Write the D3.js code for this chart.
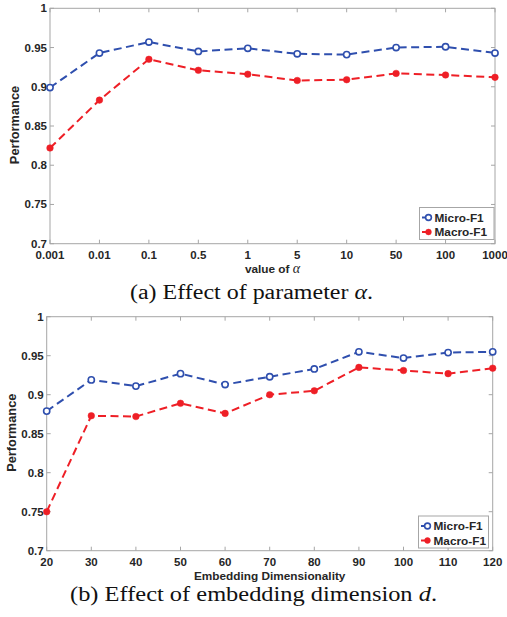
<!DOCTYPE html>
<html>
<head>
<meta charset="utf-8">
<script src="https://cdn.jsdelivr.net/npm/d3@7"></script>
<style>
  body { margin: 0; background: #fff; }
</style>
</head>
<body>
<div id="chart"></div>
<script>
// panel (a): value of alpha
var alphaLabels = ["0.001", "0.01", "0.1", "0.5", "1", "5", "10", "50", "100", "1000"];
var alphaMicro = [0.899, 0.943, 0.957, 0.945, 0.949, 0.942, 0.941, 0.950, 0.951, 0.943];
var alphaMacro = [0.822, 0.883, 0.935, 0.921, 0.916, 0.908, 0.909, 0.917, 0.915, 0.912];

// panel (b): embedding dimension
var dims = [20, 30, 40, 50, 60, 70, 80, 90, 100, 110, 120];
var dimMicro = [0.879, 0.919, 0.911, 0.927, 0.913, 0.923, 0.933, 0.955, 0.947, 0.954, 0.955];
var dimMacro = [0.750, 0.873, 0.872, 0.889, 0.876, 0.900, 0.905, 0.935, 0.931, 0.927, 0.934];

var yTicks = [0.7, 0.75, 0.8, 0.85, 0.9, 0.95, 1];
var seriesNames = ["Micro-F1", "Macro-F1"];

var blue = "#2f4fae", red = "#ee1f26", axisCol = "#a6a6a6", txt = "#262626";
var sans = "'Liberation Sans', Arial, sans-serif";
var serif = "'Liberation Serif', 'Times New Roman', serif";

var svg = d3.select("#chart").append("svg")
    .attr("width", 507)
    .attr("height", 617)
    .style("font-family", sans);

function panel(cfg) {
  var g = svg.append("g");
  var left = cfg.left, right = cfg.right, top = cfg.top, bottom = cfg.bottom;

  var y = d3.scaleLinear().domain([0.7, 1]).range([bottom, top]);
  var x = cfg.x;

  // box
  g.append("rect")
    .attr("x", left).attr("y", top)
    .attr("width", right - left).attr("height", bottom - top)
    .attr("fill", "none").attr("stroke", axisCol).attr("stroke-width", 1);

  // y ticks (both sides, inward)
  yTicks.forEach(function(v) {
    g.append("line").attr("x1", left).attr("x2", left + 4)
      .attr("y1", y(v)).attr("y2", y(v)).attr("stroke", axisCol);
    g.append("line").attr("x1", right).attr("x2", right - 4)
      .attr("y1", y(v)).attr("y2", y(v)).attr("stroke", axisCol);
    g.append("text")
      .attr("x", left - 3).attr("y", y(v) + 4)
      .attr("text-anchor", "end")
      .style("font-size", "11.5px").style("font-weight", "bold").attr("fill", txt)
      .text(v === 1 ? "1" : String(v));
  });

  // x ticks
  cfg.xVals.forEach(function(v, i) {
    var px = x(v);
    g.append("line").attr("x1", px).attr("x2", px)
      .attr("y1", bottom).attr("y2", bottom - 4).attr("stroke", axisCol);
    g.append("line").attr("x1", px).attr("x2", px)
      .attr("y1", top).attr("y2", top + 4).attr("stroke", axisCol);
    g.append("text")
      .attr("x", px).attr("y", bottom + 15.5)
      .attr("text-anchor", "middle")
      .style("font-size", "11.5px").style("font-weight", "bold").attr("fill", txt)
      .text(cfg.xText[i]);
  });

  // axis labels
  var xl = g.append("text")
    .attr("x", (left + right) / 2).attr("y", bottom + 29.5)
    .attr("text-anchor", "middle")
    .style("font-size", "11.8px").style("font-weight", "bold").attr("fill", txt);
  xl.append("tspan").text(cfg.xLabel);
  if (cfg.xLabelMath) {
    xl.append("tspan").style("font-family", serif).style("font-style", "italic")
      .style("font-weight", "normal").style("font-size", "14px").text(cfg.xLabelMath);
  }

  g.append("text")
    .attr("transform", "translate(" + (left - 31) + "," + ((top + bottom) / 2 - 1) + ") rotate(-90)")
    .attr("text-anchor", "middle")
    .style("font-size", "12.8px").style("font-weight", "bold").attr("fill", txt)
    .text("Performance");

  // lines
  var line = d3.line()
    .x(function(d) { return x(d[0]); })
    .y(function(d) { return y(d[1]); });

  [[cfg.micro, blue], [cfg.macro, red]].forEach(function(s, k) {
    var pts = cfg.xVals.map(function(v, i) { return [v, s[0][i]]; });
    g.append("path")
      .attr("d", line(pts))
      .attr("fill", "none").attr("stroke", s[1])
      .attr("stroke-width", 2).attr("stroke-dasharray", "8,4.5");
    g.selectAll(".m" + k).data(pts).enter().append("circle")
      .attr("cx", function(d) { return x(d[0]); })
      .attr("cy", function(d) { return y(d[1]); })
      .attr("r", k === 0 ? 3.1 : 3.3)
      .attr("fill", k === 0 ? "#fff" : red)
      .attr("stroke", s[1]).attr("stroke-width", k === 0 ? 1.6 : 0.5);
  });

  // legend
  var lg = cfg.legend;
  g.append("rect")
    .attr("x", lg.x).attr("y", lg.y).attr("width", lg.w).attr("height", 32)
    .attr("fill", "#fff").attr("stroke", axisCol);
  seriesNames.forEach(function(n, k) {
    var ly = lg.y + 10 + k * 14.5;
    var c = k === 0 ? blue : red;
    g.append("line").attr("x1", lg.x + 2.5).attr("x2", lg.x + 9)
      .attr("y1", ly).attr("y2", ly).attr("stroke", c).attr("stroke-width", 2);
    g.append("circle").attr("cx", lg.x + 9).attr("cy", ly).attr("r", 2.9)
      .attr("fill", k === 0 ? "#fff" : red).attr("stroke", c)
      .attr("stroke-width", k === 0 ? 1.6 : 0.5);
    g.append("text").attr("x", lg.x + 15).attr("y", ly + 4)
      .style("font-size", "11.8px").style("font-weight", "bold").attr("fill", txt)
      .text(n);
  });

  // caption (serif, stretched to the width of the LaTeX caption)
  var cap = g.append("text")
    .attr("x", cfg.capX).attr("y", cfg.capY)
    .attr("textLength", cfg.capW).attr("lengthAdjust", "spacingAndGlyphs")
    .style("font-family", serif)
    .style("font-size", "20px").attr("fill", "#111");
  cap.append("tspan").text(cfg.caption);
  cap.append("tspan").style("font-style", "italic").text(cfg.capMath);
  cap.append("tspan").text(".");
}

panel({
  left: 50, right: 495, top: 8.3, bottom: 243.7,
  x: d3.scalePoint().domain(alphaLabels).range([50, 495]),
  xVals: alphaLabels, xText: alphaLabels,
  xLabel: "value of ", xLabelMath: "\u03b1",
  micro: alphaMicro, macro: alphaMacro,
  legend: { x: 419.5, y: 207.5, w: 74.5 },
  caption: "(a)  Effect of parameter ", capMath: "\u03b1",
  capX: 130, capY: 299, capW: 243
});

panel({
  left: 46.7, right: 492.7, top: 316.7, bottom: 550.7,
  x: d3.scaleLinear().domain([20, 120]).range([46.7, 492.7]),
  xVals: dims, xText: dims.map(String),
  xLabel: "Embedding Dimensionality", xLabelMath: null,
  micro: dimMicro, macro: dimMacro,
  legend: { x: 418.5, y: 516, w: 70 },
  caption: "(b)  Effect of embedding dimension ", capMath: "d",
  capX: 70, capY: 601, capW: 367
});
</script>
</body>
</html>
